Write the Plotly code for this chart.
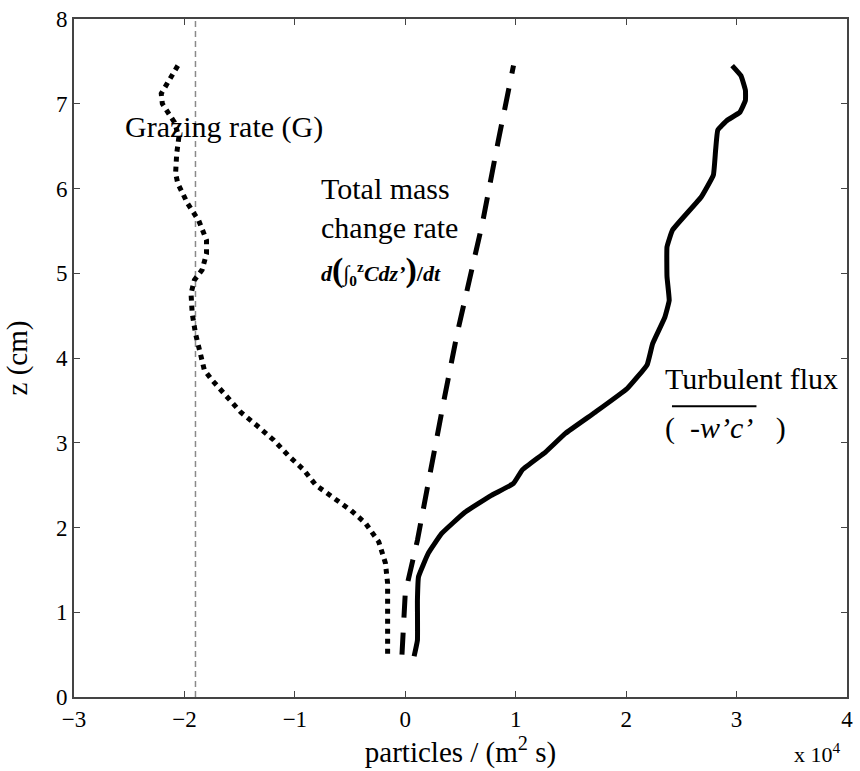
import plotly.graph_objects as go

# ---- data (units of 1e4 particles / (m^2 s)), z in cm ----
graz_x = [-2.06, -2.21, -2.20, -2.09, -2.05, -2.07, -2.08, -2.06, -1.97, -1.87, -1.80, -1.80,
          -1.84, -1.91, -1.94, -1.93, -1.90, -1.86, -1.82, -1.75, -1.62, -1.49, -1.35, -1.19,
          -1.06, -0.92, -0.81, -0.66, -0.49, -0.36, -0.24, -0.18, -0.16, -0.16, -0.16]
graz_z = [7.45, 7.12, 7.00, 6.78, 6.61, 6.41, 6.18, 6.06, 5.82, 5.62, 5.39, 5.23,
          5.04, 4.92, 4.76, 4.53, 4.29, 4.10, 3.86, 3.74, 3.54, 3.36, 3.21, 3.03,
          2.85, 2.68, 2.50, 2.36, 2.20, 2.05, 1.83, 1.58, 1.34, 0.99, 0.50]

mass_x = [-0.03, 0.00, 0.11, 0.23, 0.35, 0.47, 0.54, 0.70, 0.84, 0.98]
mass_z = [0.50, 1.23, 1.85, 2.71, 3.50, 4.29, 4.68, 5.60, 6.55, 7.45]

turb_x = [0.08, 0.11, 0.11, 0.12, 0.21, 0.33, 0.54, 0.78, 0.98, 1.06, 1.27, 1.45, 1.72, 2.01,
          2.19, 2.24, 2.35, 2.39, 2.37, 2.37, 2.42, 2.68, 2.79, 2.81, 2.83, 2.91, 3.03,
          3.08, 3.08, 3.04, 2.96]
turb_z = [0.48, 0.67, 1.14, 1.42, 1.70, 1.93, 2.18, 2.38, 2.52, 2.68, 2.89, 3.11, 3.36, 3.64,
          3.92, 4.17, 4.48, 4.68, 4.96, 5.31, 5.51, 5.90, 6.16, 6.45, 6.69, 6.80, 6.90,
          7.04, 7.16, 7.33, 7.45]

g_mean = -1.9
z_span = [0, 8]

x_ticks = [-3, -2, -1, 0, 1, 2, 3, 4]
y_ticks = [0, 1, 2, 3, 4, 5, 6, 7, 8]

SERIF = "Liberation Serif"

fig = go.Figure()
fig.add_trace(go.Scatter(x=[g_mean, g_mean], y=z_span, mode="lines",
                         line=dict(color="#8a8a8a", width=1.5, dash="6px,4px"),
                         showlegend=False, hoverinfo="skip"))
fig.add_trace(go.Scatter(x=graz_x, y=graz_z, mode="lines", name="Grazing rate (G)",
                         line=dict(color="black", width=5, dash="5px,5px"),
                         showlegend=False))
fig.add_trace(go.Scatter(x=mass_x, y=mass_z, mode="lines", name="Total mass change rate",
                         line=dict(color="black", width=5, dash="22px,15px"),
                         showlegend=False))
fig.add_trace(go.Scatter(x=turb_x, y=turb_z, mode="lines", name="Turbulent flux",
                         line=dict(color="black", width=5, shape="spline", smoothing=0.3),
                         showlegend=False))

ann_font = dict(family=SERIF, size=30, color="black")
formula = ('<b><i>d</i><span style="font-size:34px">(</span>∫<sub>0</sub><sup>z</sup>'
           '<i>Cdz’</i><span style="font-size:34px">)</span>/<i>dt</i></b>')
annotations = [
    dict(x=-2.56, y=6.72, text="Grazing rate (G)", xanchor="left", yanchor="middle",
         showarrow=False, font=ann_font),
    dict(x=-0.78, y=5.77, text="Total mass<br>change rate", xanchor="left", yanchor="middle",
         align="left", showarrow=False, font=ann_font),
    dict(x=-0.78, y=5.04, text=formula,
         xanchor="left", yanchor="middle", showarrow=False,
         font=dict(family=SERIF, size=22, color="black")),
    dict(x=2.33, y=3.76, text="Turbulent flux", xanchor="left", yanchor="middle",
         showarrow=False, font=ann_font),
    dict(x=2.33, y=3.17, text="(  <i>-w’c’</i>   )", xanchor="left", yanchor="middle",
         showarrow=False, font=ann_font),
    dict(x=0.995, y=-0.083, xref="paper", yref="paper", text="x 10<sup>4</sup>",
         xanchor="right", yanchor="middle", showarrow=False,
         font=dict(family=SERIF, size=22, color="black")),
]

fig.add_shape(type="line", x0=2.415, x1=3.18, y0=3.43, y1=3.43, xref="x", yref="y",
              line=dict(color="black", width=2))

axis_common = dict(showgrid=False, zeroline=False, showline=True, linecolor="#444444",
                   linewidth=2, mirror="ticks", ticks="inside", ticklen=6, tickwidth=1,
                   tickcolor="#444444",
                   tickfont=dict(family=SERIF, size=23, color="black"))

fig.update_layout(
    width=860, height=771,
    margin=dict(l=74, r=7, t=19, b=74),
    paper_bgcolor="white", plot_bgcolor="white",
    xaxis=dict(range=[-3, 4], tickvals=x_ticks,
               title=dict(text="particles / (m<sup>2</sup> s)",
                          font=dict(family=SERIF, size=29, color="black"), standoff=6),
               **axis_common),
    yaxis=dict(range=[0, 8], tickvals=y_ticks,
               title=dict(text="z (cm)", font=dict(family=SERIF, size=29, color="black"),
                          standoff=20),
               **axis_common),
    annotations=annotations,
)

fig.write_html("out.html")
